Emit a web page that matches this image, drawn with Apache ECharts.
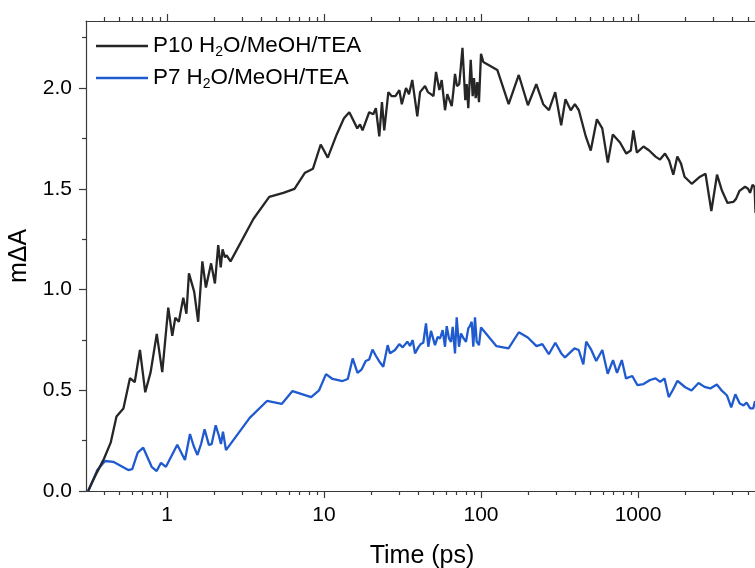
<!DOCTYPE html>
<html>
<head>
<meta charset="utf-8">
<title>Transient absorption kinetics</title>
<script src="https://cdn.jsdelivr.net/npm/echarts@6/dist/echarts.min.js"></script>
<style>
  html, body { margin: 0; padding: 0; background: #fff; }
  #chart { width: 755px; height: 568px; }
</style>
</head>
<body>
<div id="chart"></div>
<script>
// Time delays (ps) and signal (mΔA) for the two samples
const p10Time = [
  0.314, 0.357, 0.397, 0.438, 0.477, 0.528, 0.581, 0.623, 0.673, 0.727,
  0.787, 0.861, 0.933, 1.019, 1.081, 1.13, 1.19, 1.27, 1.33, 1.38,
  1.49, 1.58, 1.68, 1.77, 1.91, 2.02, 2.12, 2.20, 2.26, 2.34,
  2.40, 2.54, 3.55, 4.48, 5.51, 6.49, 7.57, 8.51, 9.53, 10.57,
  12.05, 13.4, 14.5, 16.3, 16.96, 17.6, 19.4, 20.6, 21.4, 22.5,
  23.4, 24.2, 25.7, 27.0, 28.5, 30.2, 31.3, 33.3, 34.8, 36.5,
  39.3, 40.9, 44.0, 45.9, 48.0, 49.8, 51.7, 54.3, 56.2, 59.0,
  61.0, 63.0, 65.1, 66.6, 68.3, 70.3, 72.7, 74.3, 76.2, 79.4,
  81.1, 83.0, 86.0, 88.5, 90.2, 92.5, 94.7, 97.1, 100, 103.4,
  127, 150, 174, 199, 225, 249, 271, 297, 324, 345,
  373, 396, 420, 465, 500, 547, 592, 642, 691, 768,
  842, 899, 934, 983, 1084, 1178, 1293, 1381, 1486, 1580,
  1678, 1780, 1879, 1978, 2198, 2483, 2691, 2931, 3186, 3428,
  3716, 4046, 4209, 4431, 4803, 5020, 5170, 5363, 5521, 5603
];
const p10Value = [
  0.0, 0.09, 0.16, 0.24, 0.37, 0.41, 0.56, 0.54, 0.70, 0.49,
  0.59, 0.78, 0.59, 0.91, 0.77, 0.86, 0.84, 0.96, 0.88, 1.08,
  0.99, 0.84, 1.14, 1.01, 1.13, 1.03, 1.22, 1.11, 1.20, 1.16,
  1.17, 1.14, 1.35, 1.46, 1.48, 1.50, 1.58, 1.60, 1.72, 1.655,
  1.77, 1.85, 1.88, 1.80, 1.82, 1.79, 1.88, 1.87, 1.90, 1.76,
  1.93, 1.79, 1.98, 1.96, 1.96, 1.99, 1.92, 2.00, 1.97, 2.04,
  1.86, 1.98, 2.01, 1.98, 1.97, 1.96, 2.08, 1.99, 2.04, 1.89,
  1.97, 1.94, 1.91, 1.98, 2.07, 2.01, 2.02, 2.10, 2.20, 1.94,
  2.02, 1.90, 2.14, 1.96, 2.05, 1.95, 2.03, 1.93, 2.17, 2.13,
  2.09, 1.92, 2.065, 1.915, 2.02, 1.92, 1.89, 1.98, 1.815, 1.945,
  1.89, 1.92, 1.89, 1.76, 1.69, 1.845, 1.80, 1.63, 1.77, 1.73,
  1.675, 1.69, 1.79, 1.68, 1.71, 1.69, 1.66, 1.645, 1.675, 1.64,
  1.57, 1.66, 1.625, 1.56, 1.525, 1.56, 1.575, 1.39, 1.57, 1.49,
  1.43, 1.435, 1.45, 1.49, 1.51, 1.50, 1.48, 1.52, 1.51, 1.38
];

const p7Time = [
  0.316, 0.360, 0.403, 0.455, 0.567, 0.601, 0.651, 0.706, 0.799, 0.860,
  0.916, 0.985, 1.163, 1.302, 1.401, 1.481, 1.564, 1.654, 1.736, 1.849,
  1.926, 2.043, 2.135, 2.207, 2.274, 2.376, 3.364, 4.335, 5.379, 6.301,
  8.288, 9.294, 10.30, 11.33, 13.12, 14.18, 15.23, 16.35, 17.39, 18.44,
  19.41, 20.37, 21.44, 22.50, 23.86, 25.45, 26.33, 28.33, 30.17, 31.71,
  33.93, 35.30, 36.73, 37.99, 39.87, 41.37, 42.91, 44.64, 46.17, 48.03,
  49.25, 50.93, 52.99, 54.82, 57.03, 58.98, 60.47, 62.55, 64.41, 66.03,
  68.30, 70.02, 72.43, 74.58, 77.14, 80.25, 83.00, 85.10, 87.25, 89.32,
  91.57, 93.88, 97.11, 100, 125.5, 149.7, 174.1, 198.7, 225.7, 245.8,
  270.3, 297.4, 324.7, 342.8, 393.9, 419.2, 448.3, 467.8, 504.2, 541.8,
  592.5, 641.2, 693.1, 734.9, 788.5, 838.6, 919.7, 989.7, 1084, 1193,
  1293, 1385, 1475, 1569, 1663, 1785, 1998, 2191, 2429, 2652,
  2887, 3176, 3419, 3689, 3923, 4167, 4444, 4699, 4911, 5184,
  5417, 5561
];
const p7Value = [
  0.0, 0.104, 0.149, 0.145, 0.104, 0.109, 0.19, 0.215, 0.12, 0.099,
  0.14, 0.12, 0.23, 0.154, 0.283, 0.222, 0.179, 0.237, 0.306, 0.229,
  0.233, 0.326, 0.278, 0.233, 0.294, 0.203, 0.363, 0.447, 0.432, 0.496,
  0.466, 0.499, 0.580, 0.556, 0.546, 0.556, 0.658, 0.586, 0.604, 0.645,
  0.653, 0.702, 0.67, 0.643, 0.617, 0.724, 0.683, 0.70, 0.729, 0.713,
  0.741, 0.72, 0.749, 0.683, 0.713, 0.73, 0.736, 0.832, 0.716, 0.795,
  0.802, 0.724, 0.765, 0.757, 0.799, 0.716, 0.818, 0.757, 0.74, 0.815,
  0.683, 0.862, 0.716, 0.782, 0.76, 0.741, 0.807, 0.82, 0.84, 0.716,
  0.862, 0.741, 0.724, 0.812, 0.719, 0.708, 0.788, 0.762, 0.719, 0.729,
  0.679, 0.736, 0.683, 0.663, 0.708, 0.70, 0.629, 0.741, 0.70, 0.645,
  0.70, 0.582, 0.65, 0.586, 0.65, 0.559, 0.571, 0.526, 0.531, 0.551,
  0.559, 0.542, 0.559, 0.466, 0.50, 0.547, 0.515, 0.499, 0.536, 0.517,
  0.509, 0.529, 0.498, 0.474, 0.415, 0.48, 0.434, 0.425, 0.439, 0.41,
  0.41, 0.447
];

// Axis ranges and tick positions
const xMin = 0.305;
const xMax = 5810;
const xMajorTicks = [1, 10, 100, 1000];
const xMinorTicks = [
  0.4, 0.5, 0.6, 0.7, 0.8, 0.9,
  2, 3, 4, 5, 6, 7, 8, 9,
  20, 30, 40, 50, 60, 70, 80, 90,
  200, 300, 400, 500, 600, 700, 800, 900,
  2000, 3000, 4000, 5000
];
const yMin = 0;
const yMax = 2.333;
const yMajorTicks = [0, 0.5, 1.0, 1.5, 2.0];
const yMinorTicks = [0.25, 0.75, 1.25, 1.75, 2.25];

const seriesNames = ['P10 H2O/MeOH/TEA', 'P7 H2O/MeOH/TEA'];
const seriesColors = ['#262626', '#1f5bcf'];

const FONT = '"Liberation Sans", Arial, Helvetica, sans-serif';
const AXIS_COLOR = '#3a3a3a';

function zip(xs, ys) {
  return xs.map((x, i) => [x, ys[i]]);
}

function logAxis(position, ticks, tickLen, opts) {
  return Object.assign({
    type: 'log',
    logBase: 10,
    position: position,
    min: xMin,
    max: xMax,
    splitLine: { show: false },
    axisLine: { show: true, lineStyle: { color: AXIS_COLOR, width: 1.2 } },
    axisTick: {
      show: true, inside: false, length: tickLen, customValues: ticks,
      lineStyle: { color: AXIS_COLOR, width: 1.2 }
    },
    axisLabel: { show: false },
    minorTick: { show: false }
  }, opts || {});
}

const chart = echarts.init(document.getElementById('chart'), null, { renderer: 'canvas' });

chart.setOption({
  animation: false,
  backgroundColor: '#ffffff',
  textStyle: { fontFamily: FONT },
  grid: {
    left: 86, top: 21, width: 672, height: 470,
    containLabel: false,
    outerBoundsMode: 'none'
  },
  legend: {
    orient: 'vertical',
    left: 96,
    top: 35,
    padding: 0,
    itemGap: 8,
    itemWidth: 52,
    itemHeight: 2.6,
    icon: 'rect',
    data: seriesNames,
    formatter: function (name) {
      const parts = name.split('H2O');
      return '{t|' + parts[0] + 'H}{s|2}{t|O' + parts[1] + '}';
    },
    textStyle: {
      fontFamily: FONT,
      color: '#000',
      rich: {
        t: { fontFamily: FONT, fontSize: 22.4, lineHeight: 26, color: '#000' },
        s: { fontFamily: FONT, fontSize: 14, lineHeight: 14, color: '#000', verticalAlign: 'bottom' }
      }
    }
  },
  xAxis: [
    logAxis('bottom', xMajorTicks, 7, {
      name: 'Time (ps)',
      nameLocation: 'middle',
      nameGap: 53,
      nameTextStyle: { fontFamily: FONT, fontSize: 25, color: '#000', verticalAlign: 'top' },
      axisLabel: {
        show: true, customValues: xMajorTicks, margin: 14,
        fontFamily: FONT, fontSize: 21, color: '#000',
        formatter: function (v) { return String(Math.round(v)); }
      }
    }),
    logAxis('bottom', xMinorTicks, 4, { axisLine: { show: false } }),
    logAxis('top', xMajorTicks, 7),
    logAxis('top', xMinorTicks, 4, { axisLine: { show: false } })
  ],
  yAxis: [
    {
      type: 'value',
      position: 'left',
      min: yMin,
      max: yMax,
      interval: 0.5,
      name: 'mΔA',
      nameLocation: 'middle',
      nameGap: 47,
      nameRotate: 90,
      nameTextStyle: { fontFamily: FONT, fontSize: 25, color: '#000' },
      splitLine: { show: false },
      axisLine: { show: true, lineStyle: { color: AXIS_COLOR, width: 1.2 } },
      axisTick: {
        show: true, inside: false, length: 7, customValues: yMajorTicks,
        lineStyle: { color: AXIS_COLOR, width: 1.2 }
      },
      axisLabel: {
        show: true, customValues: yMajorTicks, margin: 14,
        fontFamily: FONT, fontSize: 21, color: '#000',
        formatter: function (v) { return v.toFixed(1); }
      }
    },
    {
      type: 'value',
      position: 'left',
      min: yMin,
      max: yMax,
      splitLine: { show: false },
      axisLine: { show: false },
      axisTick: {
        show: true, inside: false, length: 4, customValues: yMinorTicks,
        lineStyle: { color: AXIS_COLOR, width: 1.2 }
      },
      axisLabel: { show: false }
    }
  ],
  series: [
    {
      name: seriesNames[0],
      type: 'line',
      xAxisIndex: 0,
      yAxisIndex: 0,
      data: zip(p10Time, p10Value),
      showSymbol: false,
      symbol: 'none',
      color: seriesColors[0],
      lineStyle: { color: seriesColors[0], width: 2.3 },
      z: 3
    },
    {
      name: seriesNames[1],
      type: 'line',
      xAxisIndex: 0,
      yAxisIndex: 0,
      data: zip(p7Time, p7Value),
      showSymbol: false,
      symbol: 'none',
      color: seriesColors[1],
      lineStyle: { color: seriesColors[1], width: 2.3 },
      z: 2
    }
  ]
});
</script>
</body>
</html>
